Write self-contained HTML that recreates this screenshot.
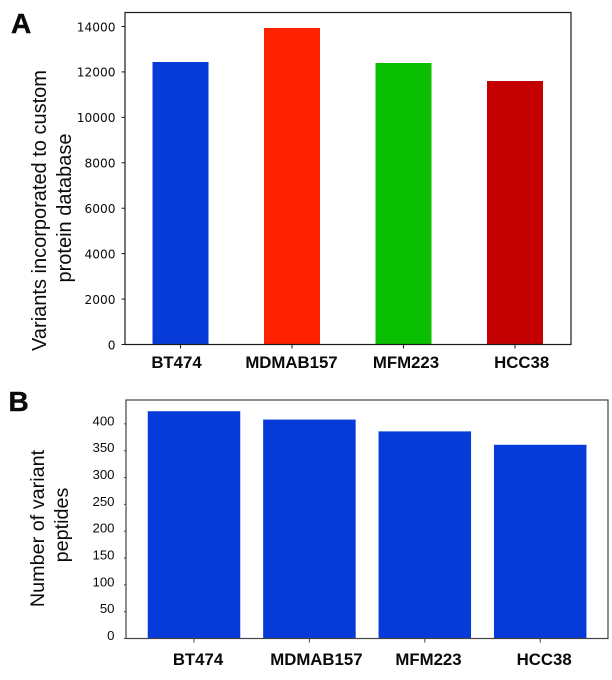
<!DOCTYPE html>
<html>
<head>
<meta charset="utf-8">
<style>
html,body{margin:0;padding:0;background:#fff;}
svg{display:block;}
text{fill:#0a0a0a;}
</style>
</head>
<body>
<svg id="chart" xmlns="http://www.w3.org/2000/svg" width="612" height="680" viewBox="0 0 612 680">
  <text x="11" y="33" font-family="'Liberation Sans',sans-serif" font-weight="700" font-size="28" stroke="#0a0a0a" stroke-width="0.4">A</text>
  <text x="8.5" y="411" font-family="'Liberation Sans',sans-serif" font-weight="700" font-size="28" stroke="#0a0a0a" stroke-width="0.4">B</text>
  <g font-family="'Liberation Sans',sans-serif" font-size="20" text-anchor="middle">
    <text transform="translate(46,210.5) rotate(-90)">Variants incorporated to custom</text>
    <text transform="translate(71,208) rotate(-90)">protein database</text>
  </g>
  <g font-family="'Liberation Sans',sans-serif" font-size="19.8" text-anchor="middle">
    <text transform="translate(44,528.5) rotate(-90)">Number of variant</text>
    <text transform="translate(68,525) rotate(-90)">peptides</text>
  </g>
</svg>
<script>
const categories = ['BT474', 'MDMAB157', 'MFM223', 'HCC38'];
const variantCounts = [12437, 13934, 12393, 11600];
const variantColors = ['#063bd9', '#ff2200', '#0abf00', '#c40000'];
const variantTicks = [0, 2000, 4000, 6000, 8000, 10000, 12000, 14000];
const peptideCounts = [423.5, 408, 386, 361];
const peptideColors = ['#063bd9', '#063bd9', '#063bd9', '#063bd9'];
const peptideTicks = [0, 50, 100, 150, 200, 250, 300, 350, 400];

const NS = 'http://www.w3.org/2000/svg';
const svg = document.getElementById('chart');

function make(tag, attrs, parent, content) {
  const el = document.createElementNS(NS, tag);
  for (const k in attrs) el.setAttribute(k, attrs[k]);
  if (content !== undefined) el.textContent = content;
  parent.appendChild(el);
  return el;
}

function drawPanel(p) {
  const y = v => p.y0 + (v / p.unit) * p.unitPx * -1;
  const x = i => p.x0 + i * p.step;
  const g = make('g', {}, svg);
  
  

  p.values.forEach((v, i) => {
    const bar = make('rect', {
      x: x(i) - p.barW / 2, y: y(v), width: p.barW, height: p.y0 - y(v),
      fill: p.colors[i]
    }, g);
    
    
  });

  const frame = make('rect', {
    x: p.left, y: p.top, width: p.right - p.left, height: p.y0 - p.top,
    fill: 'none', stroke: p.frame, 'stroke-width': p.frameW
  }, g);
  
  

  p.ticks.forEach(t => {
    const tick = make('line', {
      x1: p.left - p.tickLen, x2: p.left, y1: y(t), y2: y(t),
      stroke: p.frame, 'stroke-width': 1
    }, g);
    
    
    const label = make('text', {
      x: p.tickX, y: y(t) + p.tickDy, 'text-anchor': 'end',
      'font-family': p.tickFont, 'font-size': p.tickSize
    }, g, String(t));
    
    
  });

  categories.forEach((c, i) => {
    const tick = make('line', {
      x1: x(i), x2: x(i), y1: p.y0, y2: p.y0 + 4,
      stroke: p.frame, 'stroke-width': 1
    }, g);
    
    
    const label = make('text', {
      x: x(i) + p.labelOffset[i], y: p.labelY, 'text-anchor': 'middle',
      'font-family': "'Liberation Sans',sans-serif", 'font-weight': 700, 'font-size': 16.8
    }, g, c);
    
    
  });
}

drawPanel({
  id: 'panel-a', values: variantCounts, colors: variantColors, ticks: variantTicks,
  left: 125, right: 571, top: 12.5, y0: 344.5, unit: 14000, unitPx: 318,
  x0: 180.5, step: 111.5, barW: 56, frame: '#1a1a1a', frameW: 1.2, tickLen: 3.5,
  tickX: 115.5, tickDy: 4.8, tickFont: "'DejaVu Sans',sans-serif", tickSize: 12.2,
  labelY: 368, labelOffset: [-4, -0.5, 2.5, 6.7]
});
drawPanel({
  id: 'panel-b', values: peptideCounts, colors: peptideColors, ticks: peptideTicks,
  left: 126, right: 608, top: 400, y0: 638.5, unit: 50, unitPx: 26.83,
  x0: 194, step: 115.4, barW: 92.5, frame: '#444', frameW: 1.2, tickLen: 2,
  tickX: 114.5, tickDy: 1.5, tickFont: "'Liberation Sans',sans-serif", tickSize: 13.2,
  labelY: 665, labelOffset: [4, 7, 3.7, 4]
});
</script>
</body>
</html>
